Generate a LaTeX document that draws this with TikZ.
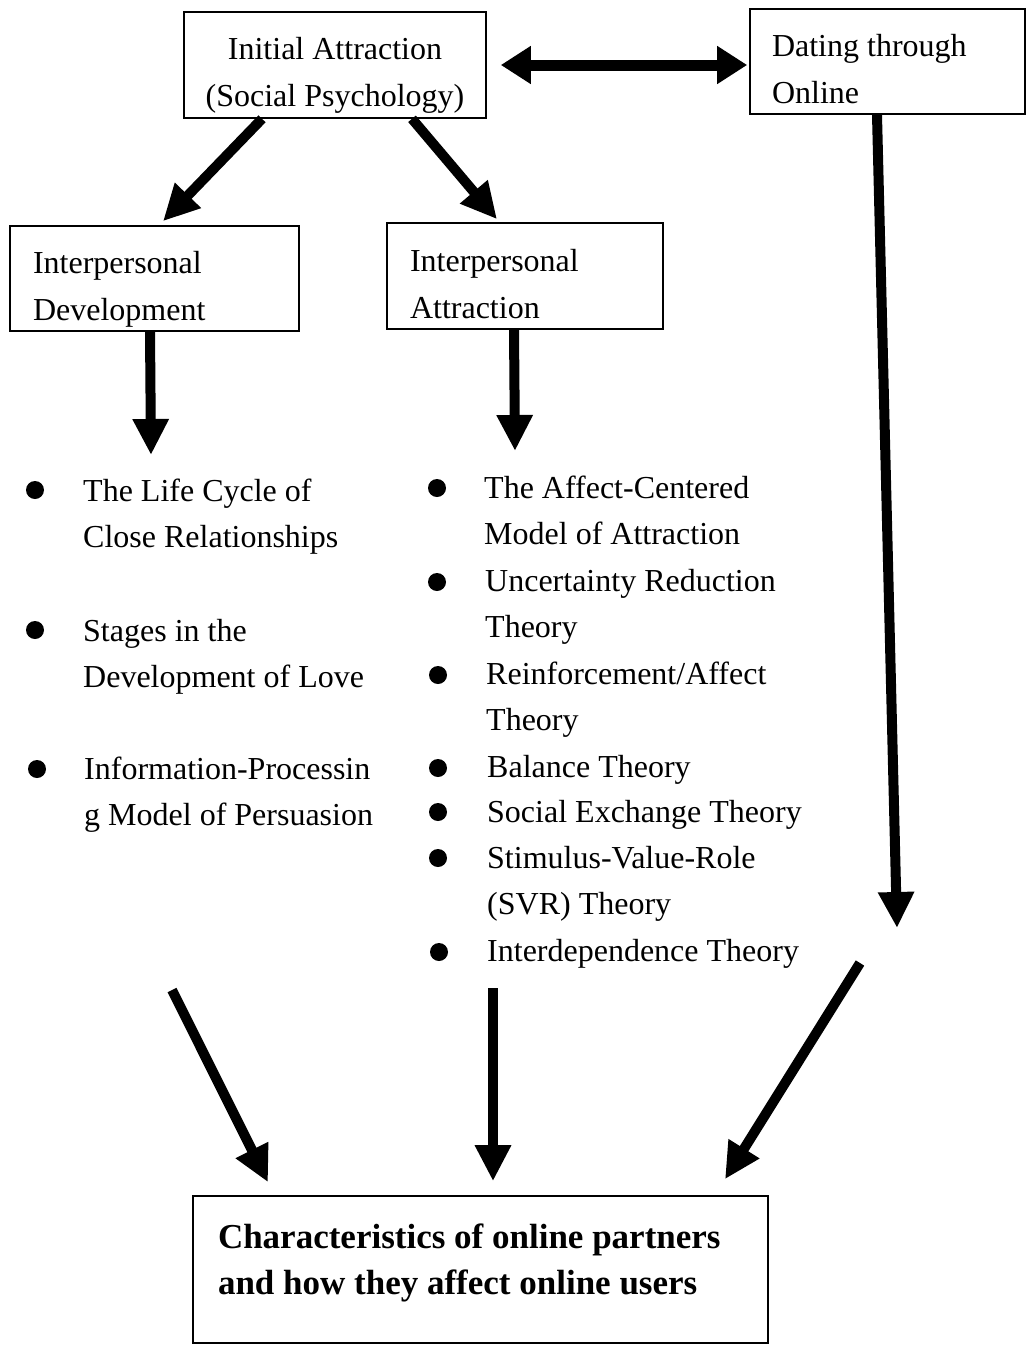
\documentclass[tikz,border=0pt]{standalone}
\usepackage{fontspec}
\setmainfont{Liberation Serif}
\usetikzlibrary{arrows.meta}
\newcommand\tstrut[1]{\rule{0pt}{#1}}
\newcommand\bstrut[1]{\rule[-#1]{0pt}{#1}}
\begin{document}
\begin{tikzpicture}[x=1pt,y=-1pt,
  box/.style={draw,line width=1.6pt,inner sep=0pt,font=\fontsize{32}{47}\selectfont},
  arr/.style={line width=10pt,-{Triangle[width=34pt,length=36pt]}},
  darr/.style={line width=11pt,{Triangle[width=36pt,length=30pt]}-{Triangle[width=36pt,length=30pt]}},
  item/.style={inner sep=0pt,anchor=north west,align=flush left,font=\fontsize{32}{46.4}\selectfont},
  dot/.style={circle,fill,inner sep=0pt,minimum size=18pt}]
\useasboundingbox[fill=white] (0,0) rectangle (1028,1345);

% boxes
\node[box,minimum width=302pt,minimum height=106pt,align=center] (init) at (335,65)
  {\tstrut{47pt}Initial Attraction\\(Social Psychology)\bstrut{12pt}};
\node[box,minimum width=275pt,minimum height=105pt,text width=231pt,align=flush left] (dating) at (887.5,61.5)
  {\tstrut{47pt}Dating through\\Online\bstrut{11pt}};
\node[box,minimum width=289pt,minimum height=105pt,text width=243pt,align=flush left] (intdev) at (154.5,278.5)
  {\tstrut{47pt}Interpersonal\\Development\bstrut{11pt}};
\node[box,minimum width=276pt,minimum height=106pt,text width=230pt,align=flush left] (intattr) at (525,276)
  {\tstrut{48pt}Interpersonal\\Attraction\bstrut{11pt}};
\node[box,minimum width=575pt,minimum height=147pt,text width=525pt,align=flush left,
  font=\fontsize{35}{46}\selectfont\bfseries] (bottom) at (480.5,1269.5)
  {\tstrut{52pt}Characteristics of online partners\\and how they affect online users\bstrut{49pt}};

% left list
\node[dot] (bl1) at (35,490) {};
\node[dot] (bl2) at (35,630) {};
\node[dot] (bl3) at (37,769) {};
\node[item] (il1) at (83,468.5) {\strut The Life Cycle of\\Close Relationships};
\node[item] (il2) at (83,608.5) {\strut Stages in the\\Development of Love};
\node[item] (il3) at (84,746.5) {\strut Information-Processin\\g Model of Persuasion};

% middle list
\node[dot] (bm1) at (437,488) {};
\node[dot] (bm2) at (437,582) {};
\node[dot] (bm3) at (438,675) {};
\node[dot] (bm4) at (438,768) {};
\node[dot] (bm5) at (438,812) {};
\node[dot] (bm6) at (438,858) {};
\node[dot] (bm7) at (439,952) {};
\node[item] (im1) at (484,465.5) {\strut The Affect-Centered\\Model of Attraction};
\node[item] (im2) at (485,558.5) {\strut Uncertainty Reduction\\Theory};
\node[item] (im3) at (486,651.5) {\strut Reinforcement/Affect\\Theory};
\node[item] (im4) at (487,744.5) {\strut Balance Theory};
\node[item] (im5) at (487,789.5) {\strut Social Exchange Theory};
\node[item] (im6) at (487,835.5) {\strut Stimulus-Value-Role\\(SVR) Theory};
\node[item] (im7) at (487,928.5) {\strut Interdependence Theory};

% free ends
\coordinate (l1) at (151,455);
\coordinate (m1) at (515,451);
\coordinate (r1) at (897,928);
\coordinate (l2) at (172,990);
\coordinate (m2) at (493,988);
\coordinate (r2) at (860,963);

% connectors
\draw[darr] ([xshift=14pt]init.east) -- ([xshift=-2pt]init.east -| dating.west);
\draw[arr] ([xshift=-73pt]init.south) -- ([shift={(8.5,-4)}]intdev.north);
\draw[arr] ([xshift=77pt]init.south) -- ([shift={(-28,-3)}]intattr.north);
\draw[arr] ([xshift=-4.5pt]intdev.south) -- (l1);
\draw[arr] ([xshift=-11pt]intattr.south) -- (m1);
\draw[arr] ([xshift=-10.5pt]dating.south) -- (r1);
\draw[arr] (l2) -- ([shift={(-212.5,-13)}]bottom.north);
\draw[arr] (m2) -- ([shift={(12.5,-14)}]bottom.north);
\draw[arr] (r2) -- ([shift={(244.5,-16)}]bottom.north);
\end{tikzpicture}
\end{document}
